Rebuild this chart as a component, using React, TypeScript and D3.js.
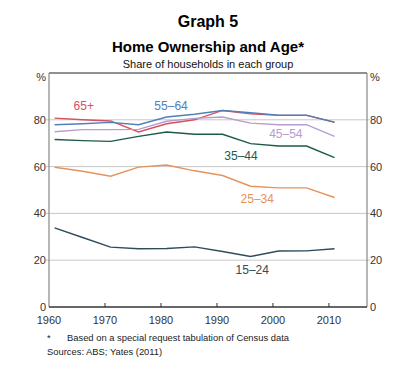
import React from "react";
import * as d3 from "d3";

const years = [1961, 1966, 1971, 1976, 1981, 1986, 1991, 1996, 2001, 2006, 2011];
const age65plus = [80.7, 80.0, 79.5, 74.8, 78.3, 80.0, 84.0, 82.6, 81.9, 81.9, 78.9];
const age55to64 = [77.9, 78.3, 78.9, 77.9, 81.2, 82.4, 84.0, 83.0, 82.0, 82.0, 79.0];
const age45to54 = [74.9, 75.8, 75.8, 75.9, 79.4, 80.6, 81.2, 78.6, 77.9, 77.9, 72.9];
const age35to44 = [71.6, 71.1, 70.8, 72.9, 74.8, 73.8, 73.8, 69.8, 68.8, 68.8, 63.8];
const age25to34 = [59.7, 58.0, 55.9, 59.8, 60.7, 58.2, 56.2, 51.6, 50.9, 50.9, 46.8];
const age15to24 = [33.8, 29.7, 25.6, 24.9, 25.0, 25.7, 23.7, 21.6, 23.9, 24.0, 24.9];

const seriesNames = ["65+", "55–64", "45–54", "35–44", "25–34", "15–24"];
const seriesValues = [age65plus, age55to64, age45to54, age35to44, age25to34, age15to24];
const seriesColors = ["#d5515f", "#4f80bb", "#b89ccf", "#1d5a48", "#e5925c", "#2f4b5c"];
const labelPos: [number, number][] = [
  [1966.2, 84.2],
  [1981.8, 84.2],
  [2002.3, 72.2],
  [1994.3, 62.8],
  [1997.2, 44.4],
  [1996.3, 14.1],
];

const xTicks = [1960, 1970, 1980, 1990, 2000, 2010];
const yTicks = [0, 20, 40, 60, 80];

export default function App() {
  const W = 400, H = 372;
  const left = 49, right = 367, top = 73, bottom = 307;
  const x = d3.scaleLinear().domain([1960, 2016.8]).range([left, right]);
  const y = d3.scaleLinear().domain([0, 100]).range([bottom, top]);
  const line = d3.line<number>().x((_, i) => x(years[i])).y((d) => y(d));
  const font = "Liberation Sans, Arial, sans-serif";

  return (
    <svg width={W} height={H} style={{ position: "absolute", left: 0, top: 0 }} fontFamily={font}>
      <rect width={W} height={H} fill="#fff" />
      <text x={208} y={27} textAnchor="middle" fontSize={16} fontWeight="bold" fill="#000">Graph 5</text>
      <text x={208} y={52} textAnchor="middle" fontSize={15} fontWeight="bold" fill="#000">Home Ownership and Age*</text>
      <text x={208} y={68} textAnchor="middle" fontSize={11} fill="#111">Share of households in each group</text>

      {yTicks.filter((t) => t > 0).map((t) => (
        <line key={"g" + t} x1={left - 3} x2={right + 3} y1={y(t)} y2={y(t)} stroke="#c8c8c8" strokeWidth={1} />
      ))}

      {yTicks.map((t) => (
        <g key={"yl" + t} fontSize={11} fill="#333">
          <text x={left - 3} y={y(t) + 4} textAnchor="end">{t}</text>
          <text x={right + 3} y={y(t) + 4} textAnchor="start">{t}</text>
        </g>
      ))}
      <text x={left - 3} y={y(100) + 8} textAnchor="end" fontSize={11} fill="#333">%</text>
      <text x={right + 3} y={y(100) + 8} textAnchor="start" fontSize={11} fill="#333">%</text>

      {seriesValues.map((vals, i) => (
        <path key={"s" + i} d={line(vals) || ""} fill="none" stroke={seriesColors[i]} strokeWidth={1.4} />
      ))}

      {seriesNames.map((n, i) => (
        <text key={"l" + i} x={x(labelPos[i][0])} y={y(labelPos[i][1])} textAnchor="middle" fontSize={12} fill={seriesColors[i]}>{n}</text>
      ))}

      <line x1={left} x2={right} y1={top} y2={top} stroke="#222" strokeWidth={1} />
      <line x1={left} x2={left} y1={top} y2={bottom} stroke="#888" strokeWidth={1.2} />
      <line x1={right} x2={right} y1={top} y2={bottom} stroke="#888" strokeWidth={1.2} />
      <line x1={left} x2={right} y1={bottom} y2={bottom} stroke="#333" strokeWidth={1.5} />

      {xTicks.map((t) => (
        <g key={"x" + t}>
          {t > 1960 && <line x1={x(t)} x2={x(t)} y1={bottom} y2={bottom - 4} stroke="#333" strokeWidth={1} />}
          <text x={x(t)} y={324} textAnchor="middle" fontSize={11} fill="#333">{t}</text>
        </g>
      ))}

      <text x={47} y={341} fontSize={9.4} fill="#222">*</text>
      <text x={67} y={341} fontSize={9.4} fill="#222">Based on a special request tabulation of Census data</text>
      <text x={47} y={355} fontSize={9.4} fill="#222">Sources:  ABS; Yates (2011)</text>
    </svg>
  );
}
